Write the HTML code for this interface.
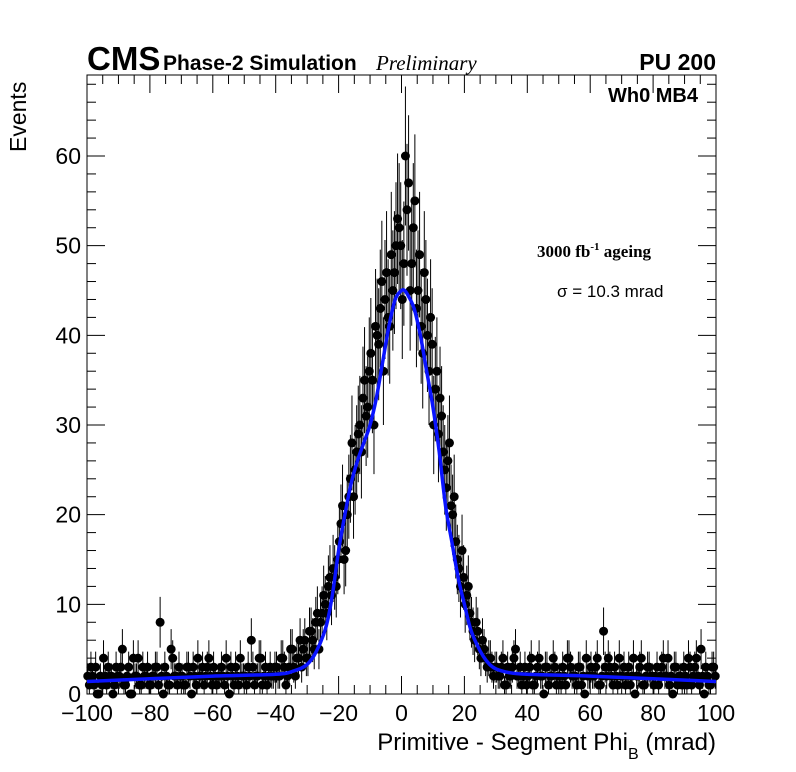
<!DOCTYPE html>
<html><head><meta charset="utf-8">
<style>
html,body{margin:0;padding:0;background:#fff;}
svg{display:block;font-family:"Liberation Sans",sans-serif;}
</style></head>
<body>
<svg id="chart" width="796" height="772" viewBox="0 0 796 772" xmlns="http://www.w3.org/2000/svg">
<rect x="0" y="0" width="796" height="772" fill="#fff"/>
<text x="87" y="70" font-size="33" font-weight="bold">CMS</text>
<text x="163" y="70" font-size="21" font-weight="bold">Phase-2 Simulation</text>
<text x="376" y="70" font-size="21" font-style="italic" font-family="Liberation Serif,serif">Preliminary</text>
<text x="716" y="70" font-size="23" font-weight="bold" text-anchor="end">PU 200</text>
<text x="698" y="102" font-size="20" font-weight="bold" text-anchor="end">Wh0 MB4</text>
<text x="537" y="257" font-size="17" font-weight="bold" font-family="Liberation Serif,serif">3000 fb<tspan font-size="11" dy="-7">-1</tspan><tspan dy="7"> ageing</tspan></text>
<text x="557" y="297" font-size="17">σ = 10.3 mrad</text>
<text transform="translate(26,152) rotate(-90)" font-size="23">Events</text>
<text x="716" y="750" font-size="24" text-anchor="end">Primitive - Segment Phi<tspan font-size="16" dy="9">B</tspan><tspan dy="-9"> (mrad)</tspan></text>
<g id="plot"></g>
</svg>
<script>
const countsA = [
2,3,1,0,2,4,1,2,0,3,
2,5,1,3,0,2,4,1,2,3,
1,2,3,8,0,2,1,4,2,3,
2,1,3,0,2,4,2,1,3,2,
3,1,2,2,4,0,2,3,1,2,
2,3,6,1,2,4,2,1,3,2,
3,2,4,1,3,5,2,4,3,6,
4,7,5,9,8,11,9,13,14,12,
17,21,16,22,28,25,29,27,35,32,
38,30,40,43,36,47,41,45,50,52,
44,60,57,48,55,45,41,47,40,42,
30,36,33,27,23,28,20,17,14,16,
10,12,8,6,7,4,5,3,4,2,
3,2,4,1,2,3,5,2,1,3,
2,4,1,3,2,0,3,2,4,1,
2,3,1,4,2,2,3,1,0,2,
3,2,4,1,7,2,3,1,2,4,
2,1,3,2,0,2,4,1,3,2,
1,3,2,4,2,1,0,3,2,1,
2,4,1,3,2,5,0,2,1,3];
const countsB = [
1,2,3,0,1,2,3,2,1,2,
3,1,2,0,4,2,1,3,2,1,
2,3,1,2,3,1,5,2,1,2,
1,3,2,3,1,2,3,2,4,1,
2,2,3,1,2,3,1,2,4,2,
1,2,3,2,4,1,3,2,2,3,
2,4,3,2,5,3,4,6,5,4,
7,6,8,5,9,10,12,11,13,15,
19,15,20,24,22,27,30,33,31,36,
35,41,39,46,44,42,49,47,53,50,
48,54,45,52,43,49,38,44,36,39,
34,29,31,25,26,21,22,15,12,13,
11,9,7,8,5,6,4,4,3,3,
2,3,1,3,2,4,2,3,2,1,
3,1,2,4,2,3,1,2,3,2,
1,2,4,3,2,1,3,2,4,2,
2,3,1,2,3,4,2,3,1,2,
3,2,1,4,2,3,1,2,3,2,
2,1,3,2,4,2,3,1,2,3,
1,3,2,4,1,2,3,1,3,2];
const fitX = [-100,-80,-60,-40,-34,-30,-27,-24,-22,-20,-18,-16,-14,-12,-10,-8,-6,-4,-2,0,1,2,4,6,8,10,12,14,16,18,20,22,24,26,28,30,34,40,60,80,100];
const fitY = [1.4,1.7,2.0,2.2,2.6,3.3,4.8,7.5,11,16,20,23.5,26,28,30,33,37,41,44,45,45,44.5,43,40,36,32,27,21,17,13,10,7.2,5.5,4.2,3.3,2.8,2.4,2.2,2.0,1.7,1.4];
const xTicks = [-100,-80,-60,-40,-20,0,20,40,60,80,100];
const yTicks = [0,10,20,30,40,50,60];

const L=87,R=716,T=75,B=694;
const xs = v => L + (v + 100) / 200 * (R - L);
const ys = v => B - v * (B - 156) / 60;
const NS = "http://www.w3.org/2000/svg";
const g = document.getElementById('plot');
function mk(tag, attrs){const e=document.createElementNS(NS,tag);for(const k in attrs)e.setAttribute(k,attrs[k]);g.appendChild(e);return e;}

const frame = mk('rect',{x:L,y:T,width:R-L,height:B-T,fill:'none',stroke:'#000','stroke-width':1});



for (let v=-100; v<=100; v+=5){
  const major = v%20===0; const len = major?18:9;
  const t1 = mk('line',{x1:xs(v),x2:xs(v),y1:B,y2:B-len,stroke:'#000'});
  
  
  const t2 = mk('line',{x1:xs(v),x2:xs(v),y1:T,y2:T+len,stroke:'#000'});
  
  
}
for (let v=0; v<=68; v+=2){
  const major = v%10===0; const len = major?18:9;
  const t1 = mk('line',{x1:L,x2:L+len,y1:ys(v),y2:ys(v),stroke:'#000'});
  
  
  const t2 = mk('line',{x1:R,x2:R-len,y1:ys(v),y2:ys(v),stroke:'#000'});
  
  
}
xTicks.forEach(v=>{
  const t = mk('text',{x:xs(v),y:721,'font-size':23,'text-anchor':'middle'});
  t.textContent = (v<0?'\u2212'+(-v):v);
  
  
});
yTicks.forEach(v=>{
  const t = mk('text',{x:L-6,y:ys(v)+8,'font-size':23,'text-anchor':'end'});
  t.textContent = v;
  
  
});
function drawBin(c, n){
  const e = Math.sqrt(n);
  const x = xs(c);
  const eb = mk('path',{d:`M${x},${ys(n+e)}V${ys(Math.max(0,n-e))}M${xs(c-0.25)},${ys(n)}H${xs(c+0.25)}`,stroke:'#000','stroke-width':1,fill:'none'});
  
  
  const p = mk('circle',{cx:x,cy:ys(n),r:4.5,fill:'#000'});
  
  
}
countsA.forEach((n,i)=>drawBin(-99.75 + i, n));
countsB.forEach((n,i)=>drawBin(-99.25 + i, n));
const pts = fitX.map((x,i)=>[xs(x),ys(fitY[i])]);
let d = `M${pts[0][0]},${pts[0][1]}`;
for(let i=0;i<pts.length-1;i++){
  const p0=pts[Math.max(0,i-1)],p1=pts[i],p2=pts[i+1],p3=pts[Math.min(pts.length-1,i+2)];
  const c1=[p1[0]+(p2[0]-p0[0])/6,p1[1]+(p2[1]-p0[1])/6];
  const c2=[p2[0]-(p3[0]-p1[0])/6,p2[1]-(p3[1]-p1[1])/6];
  d+=`C${c1[0]},${c1[1]} ${c2[0]},${c2[1]} ${p2[0]},${p2[1]}`;
}
const fit = mk('path',{d:d,stroke:'#0a14ff','stroke-width':3.5,fill:'none'});


</script>
</body></html>
